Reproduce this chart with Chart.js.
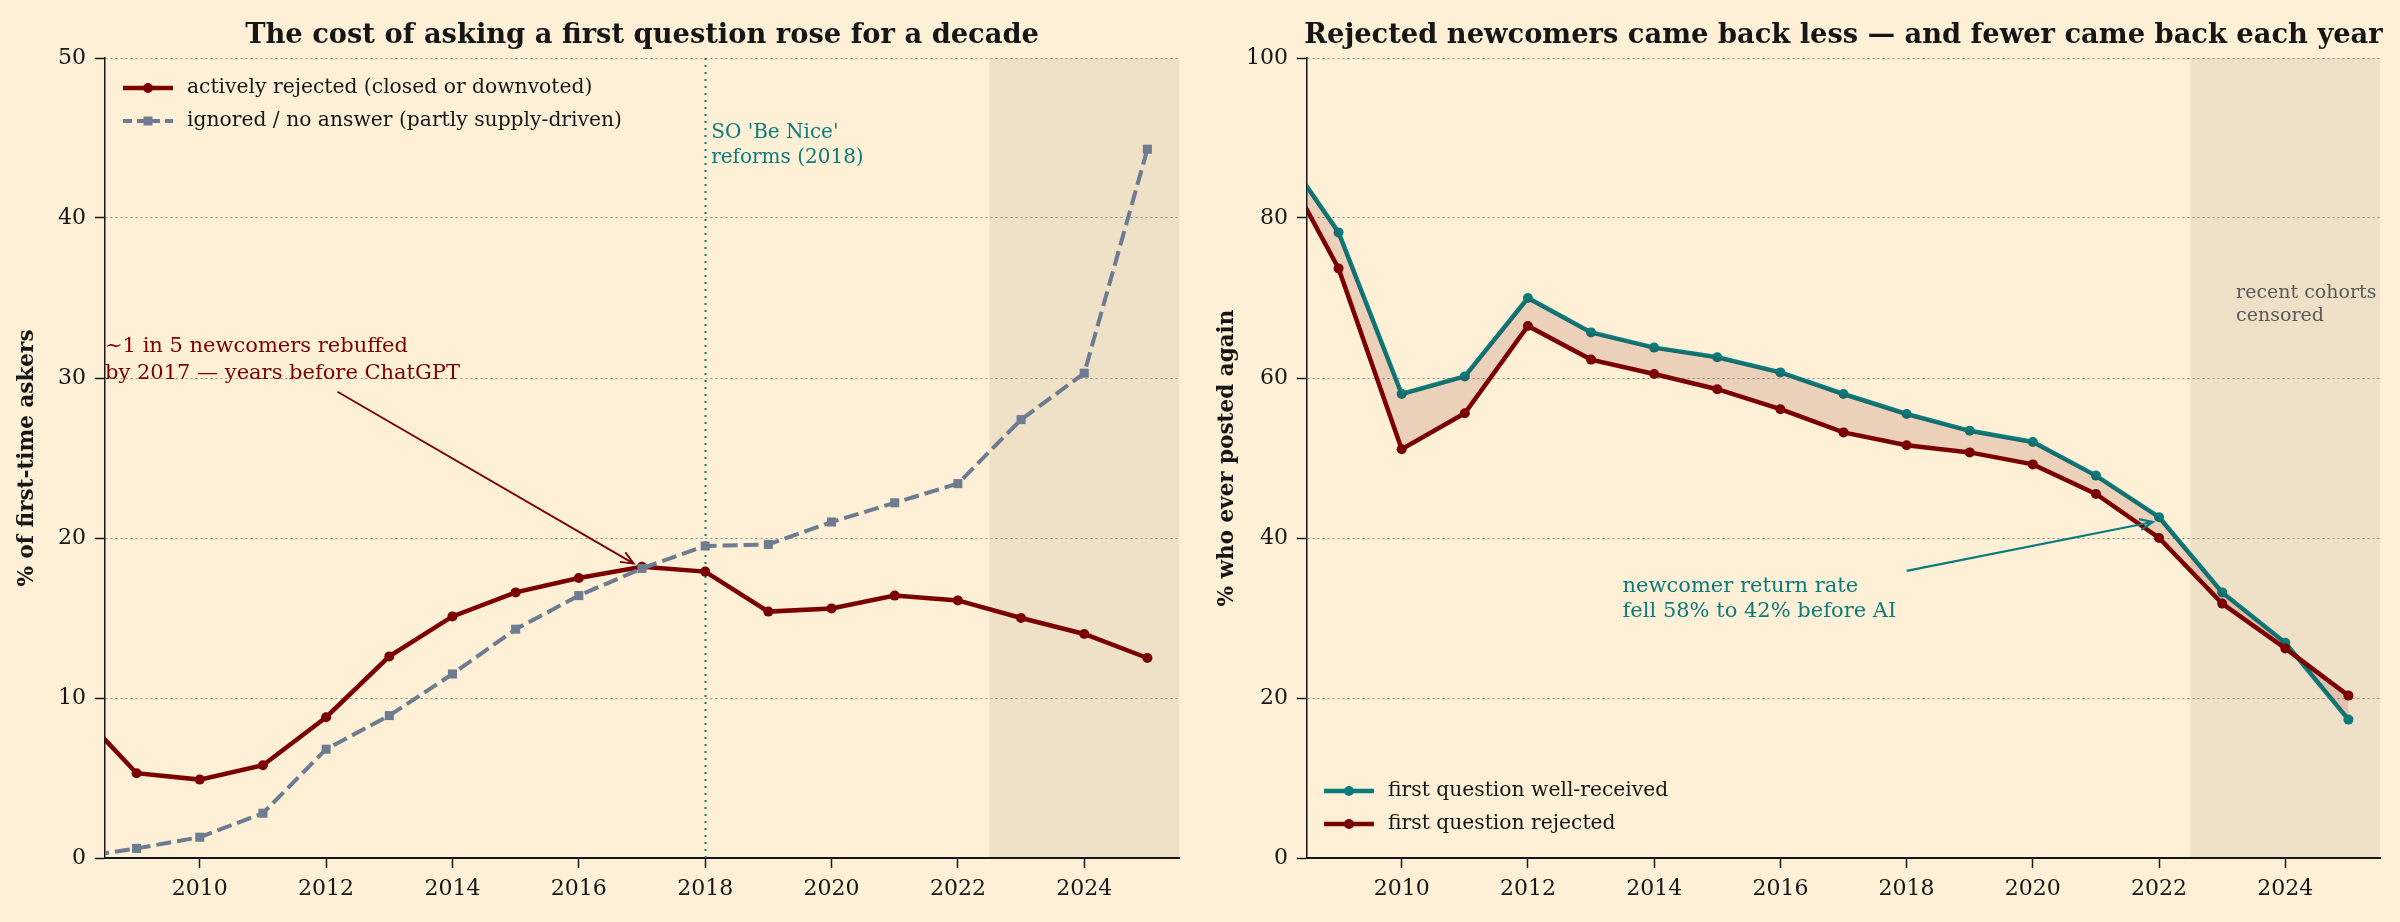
<!DOCTYPE html>
<html>
<head>
<meta charset="utf-8">
<script src="https://cdn.jsdelivr.net/npm/chart.js@4.4.1/dist/chart.umd.min.js"></script>
<style>
  html, body { margin: 0; padding: 0; background: #fdf0d6; }
  #wrap { position: relative; width: 2400px; height: 922px; }
  .panel { position: absolute; top: 0; width: 1200px; height: 922px; }
</style>
</head>
<body>
<div id="wrap">
  <div class="panel" style="left:0"><canvas id="costChart"></canvas></div>
  <div class="panel" style="left:1200px"><canvas id="returnChart"></canvas></div>
</div>
<script>
// Values (first-question cohorts by year)
const years = [2008, 2009, 2010, 2011, 2012, 2013, 2014, 2015, 2016, 2017, 2018, 2019, 2020, 2021, 2022, 2023, 2024, 2025];
const rejectedShare = [9.5, 5.3, 4.9, 5.8, 8.8, 12.6, 15.1, 16.6, 17.5, 18.2, 17.9, 15.4, 15.6, 16.4, 16.1, 15.0, 14.0, 12.5];
const ignoredShare = [0.0, 0.6, 1.3, 2.8, 6.8, 8.9, 11.5, 14.3, 16.4, 18.1, 19.5, 19.6, 21.0, 22.2, 23.4, 27.4, 30.3, 44.3];
const returnWellReceived = [89.6, 78.2, 58.0, 60.2, 70.0, 65.7, 63.8, 62.6, 60.7, 58.0, 55.5, 53.4, 52.0, 47.8, 42.6, 33.2, 26.9, 17.3];
const returnRejected = [88.3, 73.7, 51.1, 55.6, 66.5, 62.3, 60.5, 58.6, 56.1, 53.2, 51.6, 50.7, 49.2, 45.5, 40.0, 31.8, 26.2, 20.3];

const xTicks = [2010, 2012, 2014, 2016, 2018, 2020, 2022, 2024];
const costTicks = [0, 10, 20, 30, 40, 50];
const returnTicks = [0, 20, 40, 60, 80, 100];
const xRange = [2008.5, 2025.5];
const censoredFrom = 2022.5;
const reformYear = 2018;

const SERIF = "'DejaVu Serif', 'Liberation Serif', serif";
const MAROON = '#7b0000';
const TEAL = '#0b7b7b';
const SLATE = '#6d7c90';
const INK = '#161616';

Chart.defaults.font.family = SERIF;
Chart.defaults.color = INK;

const toPoints = vals => years.map((yr, i) => ({ x: yr, y: vals[i] }));

// shared axis builders
function xAxis() {
    return {
        type: 'linear',
        min: xRange[0],
        max: xRange[1],
        afterBuildTicks: axis => { axis.ticks = xTicks.map(v => ({ value: v })); },
        afterFit: axis => { axis.height = 64; },
        ticks: { font: { size: 22 }, color: INK, padding: 8, maxRotation: 0, autoSkip: false, callback: v => String(v) },
        grid: { drawOnChartArea: false, drawTicks: true, tickLength: 10, tickColor: INK, tickWidth: 1.5 },
        border: { display: true, color: INK, width: 2 }
    };
}

function yAxis(ticks, title, width) {
    return {
        type: 'linear',
        min: ticks[0],
        max: ticks[ticks.length - 1],
        afterBuildTicks: axis => { axis.ticks = ticks.map(v => ({ value: v })); },
        afterFit: axis => { axis.width = width; },
        ticks: { font: { size: 22 }, color: INK, padding: 9 },
        grid: { color: '#8c8c8c', lineWidth: 1, tickLength: 10, tickColor: INK, tickWidth: 1.5, tickBorderDash: [] },
        border: { display: true, color: INK, width: 1.5, dash: [2, 3] },
        title: { display: true, text: title, font: { size: 21.5, weight: 'bold' }, color: INK, padding: { top: 15, bottom: 0 } }
    };
}

// helpers for the hand-drawn extras
function drawArrow(ctx, x1, y1, x2, y2, color, width) {
    const ang = Math.atan2(y2 - y1, x2 - x1);
    ctx.save();
    ctx.strokeStyle = color;
    ctx.lineWidth = width;
    ctx.beginPath();
    ctx.moveTo(x1, y1);
    ctx.lineTo(x2, y2);
    ctx.moveTo(x2 - 14 * Math.cos(ang - 0.4), y2 - 14 * Math.sin(ang - 0.4));
    ctx.lineTo(x2, y2);
    ctx.lineTo(x2 - 14 * Math.cos(ang + 0.4), y2 - 14 * Math.sin(ang + 0.4));
    ctx.stroke();
    ctx.restore();
}

function drawLines(ctx, lines, x, y, step, font, color) {
    ctx.save();
    ctx.font = font;
    ctx.fillStyle = color;
    ctx.textAlign = 'left';
    ctx.textBaseline = 'alphabetic';
    lines.forEach((line, i) => ctx.fillText(line, x, y + i * step));
    ctx.restore();
}

function drawLegend(ctx, chart, left, rows) {
    chart.data.datasets.forEach((ds, i) => {
        const y = rows[i];
        ctx.save();
        ctx.strokeStyle = ds.borderColor;
        ctx.lineWidth = ds.borderWidth;
        ctx.setLineDash(ds.pointStyle === 'rect' ? [9, 5] : []);
        ctx.beginPath();
        ctx.moveTo(left, y);
        ctx.lineTo(left + 50, y);
        ctx.stroke();
        ctx.setLineDash([]);
        ctx.fillStyle = ds.pointBackgroundColor;
        if (ds.pointStyle === 'rect') {
            ctx.fillRect(left + 20.5, y - 4.5, 9, 9);
        } else {
            ctx.beginPath();
            ctx.arc(left + 25, y, 5, 0, Math.PI * 2);
            ctx.fill();
        }
        ctx.fillStyle = INK;
        ctx.font = `20.3px ${SERIF}`;
        ctx.textBaseline = 'middle';
        ctx.fillText(ds.label, left + 64, y);
        ctx.restore();
    });
}

const panelTitle = text => ({
    id: 'panelTitle',
    afterDraw(chart) {
        const { ctx, chartArea } = chart;
        ctx.save();
        ctx.font = `bold 27.3px ${SERIF}`;
        ctx.fillStyle = INK;
        ctx.textAlign = 'center';
        ctx.fillText(text, (chartArea.left + chartArea.right) / 2, 43);
        ctx.restore();
    }
});

// darker band for the censored recent cohorts
const censoredBand = {
    id: 'censoredBand',
    beforeDraw(chart) {
        const { ctx, chartArea, scales: { x } } = chart;
        const x0 = x.getPixelForValue(censoredFrom);
        ctx.save();
        ctx.fillStyle = '#efe0c8';
        ctx.fillRect(x0, chartArea.top, chartArea.right - x0, chartArea.bottom - chartArea.top);
        ctx.restore();
    }
};

// Left panel extras
const costNotes = {
    id: 'costNotes',
    beforeDatasetsDraw(chart) {
        const { ctx, chartArea, scales: { x } } = chart;
        const rx = Math.round(x.getPixelForValue(reformYear)) + 0.5;
        ctx.save();
        ctx.strokeStyle = TEAL;
        ctx.lineWidth = 2;
        ctx.setLineDash([2, 5]);
        ctx.beginPath();
        ctx.moveTo(rx, chartArea.top);
        ctx.lineTo(rx, chartArea.bottom);
        ctx.stroke();
        ctx.restore();
    },
    afterDatasetsDraw(chart) {
        const { ctx, scales: { x, y } } = chart;
        drawLines(ctx, ["SO 'Be Nice'", 'reforms (2018)'], x.getPixelForValue(reformYear) + 6, y.getPixelForValue(45.0), 25, `20px ${SERIF}`, TEAL);
        drawLines(ctx, ['~1 in 5 newcomers rebuffed', 'by 2017 \u2014 years before ChatGPT'], x.getPixelForValue(2008.5), y.getPixelForValue(31.6), 27, `21px ${SERIF}`, MAROON);
        drawArrow(ctx, x.getPixelForValue(2012.18), y.getPixelForValue(29.14), x.getPixelForValue(2016.87), y.getPixelForValue(18.4), MAROON, 1.8);
    },
    afterDraw(chart) {
        drawLegend(chart.ctx, chart, 123, [88, 121]);
    }
};

// Right panel extras
const returnNotes = {
    id: 'returnNotes',
    afterDatasetsDraw(chart) {
        const { ctx, scales: { x, y } } = chart;
        drawLines(ctx, ['newcomer return rate', 'fell 58% to 42% before AI'], x.getPixelForValue(2013.5), y.getPixelForValue(33.3), 25, `21px ${SERIF}`, TEAL);
        drawArrow(ctx, x.getPixelForValue(2018.0), y.getPixelForValue(35.9), x.getPixelForValue(2021.9), y.getPixelForValue(42.0), TEAL, 2.2);
        drawLines(ctx, ['recent cohorts', 'censored'], x.getPixelForValue(2023.22), y.getPixelForValue(70.0), 23, `19px ${SERIF}`, '#5a5a5a');
    },
    afterDraw(chart) {
        drawLegend(chart.ctx, chart, 124, [791, 824]);
    }
};

// Left: cost of asking
new Chart(document.getElementById('costChart'), {
    type: 'line',
    data: {
        datasets: [{
            label: 'actively rejected (closed or downvoted)',
            data: toPoints(rejectedShare),
            borderColor: MAROON,
            borderWidth: 4.5,
            pointStyle: 'circle',
            pointRadius: 5,
            pointBackgroundColor: MAROON,
            pointBorderWidth: 0,
            order: 2
        }, {
            label: 'ignored / no answer (partly supply-driven)',
            data: toPoints(ignoredShare),
            borderColor: SLATE,
            borderWidth: 4,
            borderDash: [15, 6],
            pointStyle: 'rect',
            pointRadius: 6.4,
            pointBackgroundColor: SLATE,
            pointBorderWidth: 0,
            order: 1
        }]
    },
    options: {
        responsive: true,
        maintainAspectRatio: false,
        animation: false,
        devicePixelRatio: 1,
        layout: { padding: { top: 58, right: 21, left: 0, bottom: 0 } },
        plugins: { legend: { display: false }, tooltip: { enabled: false } },
        scales: { x: xAxis(), y: yAxis(costTicks, '% of first-time askers', 105) }
    },
    plugins: [censoredBand, costNotes, panelTitle('The cost of asking a first question rose for a decade')]
});

// Right: who came back
new Chart(document.getElementById('returnChart'), {
    type: 'line',
    data: {
        datasets: [{
            label: 'first question well-received',
            data: toPoints(returnWellReceived),
            borderColor: TEAL,
            borderWidth: 4.5,
            pointStyle: 'circle',
            pointRadius: 5,
            pointBackgroundColor: TEAL,
            pointBorderWidth: 0,
            fill: false,
            order: 2
        }, {
            label: 'first question rejected',
            data: toPoints(returnRejected),
            borderColor: MAROON,
            borderWidth: 4.5,
            pointStyle: 'circle',
            pointRadius: 5,
            pointBackgroundColor: MAROON,
            pointBorderWidth: 0,
            backgroundColor: 'rgba(123, 0, 0, 0.13)',
            fill: '-1',
            order: 1
        }]
    },
    options: {
        responsive: true,
        maintainAspectRatio: false,
        animation: false,
        devicePixelRatio: 1,
        layout: { padding: { top: 58, right: 20, left: 0, bottom: 0 } },
        plugins: { legend: { display: false }, tooltip: { enabled: false } },
        scales: { x: xAxis(), y: yAxis(returnTicks, '% who ever posted again', 107) }
    },
    plugins: [censoredBand, returnNotes, panelTitle('Rejected newcomers came back less \u2014 and fewer came back each year')]
});
</script>
</body>
</html>
